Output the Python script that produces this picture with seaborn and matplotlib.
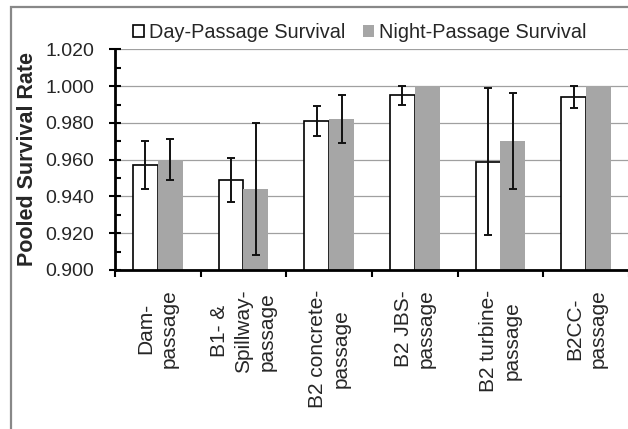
import matplotlib
matplotlib.use("Agg")
import matplotlib.pyplot as plt
import seaborn as sns
import pandas as pd
import numpy as np
from matplotlib.patches import Rectangle, Patch
from matplotlib.ticker import MultipleLocator

categories = ["Dam-\npassage", "B1- &\nSpillway-\npassage", "B2 concrete-\npassage",
              "B2 JBS-\npassage", "B2 turbine-\npassage", "B2CC-\npassage"]
series = ["Day-Passage Survival", "Night-Passage Survival"]
day_vals = [0.957, 0.949, 0.981, 0.995, 0.959, 0.994]
day_lo = [0.944, 0.937, 0.973, 0.990, 0.919, 0.988]
day_hi = [0.970, 0.961, 0.989, 1.000, 0.999, 1.000]
night_vals = [0.960, 0.944, 0.982, 1.000, 0.970, 1.000]
night_lo = [0.949, 0.908, 0.969, 1.000, 0.944, 1.000]
night_hi = [0.971, 0.980, 0.995, 1.000, 0.996, 1.000]

sns.set_theme(style="white")
plt.rcParams["font.family"] = ["Liberation Sans", "DejaVu Sans"]

df = pd.DataFrame({
    "cat": categories * 2,
    "series": [series[0]] * 6 + [series[1]] * 6,
    "val": day_vals + night_vals,
})

fig = plt.figure(figsize=(6.28, 4.29), dpi=100)
ax = fig.add_axes([115 / 628, 1 - 270 / 429, 514 / 628, 221 / 429])

sns.barplot(data=df, x="cat", y="val", hue="series", order=categories,
            hue_order=series, palette=["white", "#A6A6A6"], width=0.58,
            gap=0, errorbar=None, ax=ax, legend=False, zorder=2)

day_c, night_c = ax.containers[0], ax.containers[1]
for p in day_c:
    p.set_edgecolor("black")
    p.set_linewidth(1.2)
for p in night_c:
    p.set_edgecolor("none")

for cont, vals, lo, hi in [(day_c, day_vals, day_lo, day_hi),
                           (night_c, night_vals, night_lo, night_hi)]:
    xs = [p.get_x() + p.get_width() / 2 for p in cont]
    yerr = np.array([[v - l for v, l in zip(vals, lo)], [h - v for v, h in zip(vals, hi)]])
    mask = yerr.sum(axis=0) > 0
    ax.errorbar(np.array(xs)[mask], np.array(vals)[mask], yerr=yerr[:, mask], fmt="none",
                ecolor="#111111", elinewidth=1.4, capsize=3.0, capthick=1.4, zorder=3)

ax.set_ylim(0.900, 1.0202)
ax.set_xlim(-0.5, 5.5)
ax.yaxis.set_minor_locator(MultipleLocator(0.01))
yt = np.arange(0.90, 1.0201, 0.02)
ax.set_yticks(yt)
ax.set_yticklabels([f"{t:.3f}" for t in yt])
ax.yaxis.grid(True, which="major", color="#A0A0A0", linewidth=0.9, zorder=0)
ax.set_axisbelow(True)

ax.set_xticks(np.arange(6))
ax.set_xticklabels(categories, rotation=90, va="top", ha="center",
                   multialignment="center", linespacing=1.3, fontsize=15)
ax.set_xticks(np.arange(-0.5, 6, 1), minor=True)
ax.tick_params(axis="x", which="major", length=0, pad=14)
ax.tick_params(axis="x", which="minor", length=5, width=1.5, direction="out", color="black", bottom=True)
ax.tick_params(axis="y", which="major", length=8, width=1.5, direction="inout", color="black",
               labelsize=14, pad=11, left=True)
ax.tick_params(axis="y", which="minor", length=4, width=1.5, direction="in", color="black", left=True)

ax.set_xlabel("")
ax.set_ylabel("Pooled Survival Rate", fontsize=15.5, fontweight="bold", labelpad=5)

for s in ["top", "right"]:
    ax.spines[s].set_visible(False)
for s in ["left", "bottom"]:
    ax.spines[s].set_color("black")
    ax.spines[s].set_linewidth(2)

handles = [Patch(facecolor="white", edgecolor="black", linewidth=1.2),
           Patch(facecolor="#A6A6A6", edgecolor="none")]
fig.legend(handles, series, loc="center", bbox_to_anchor=(360 / 628, 1 - 33 / 429),
           ncol=2, frameon=False, fontsize=14.3, handlelength=0.55, handleheight=0.55,
           handletextpad=0.25, columnspacing=0.9, borderaxespad=0)

fig.add_artist(Rectangle((11 / 628, -0.2), 1.5, 1.2 - 7 / 429, transform=fig.transFigure,
                         fill=False, edgecolor="#888888", linewidth=1.6))

fig.savefig("out.png", dpi=100)
